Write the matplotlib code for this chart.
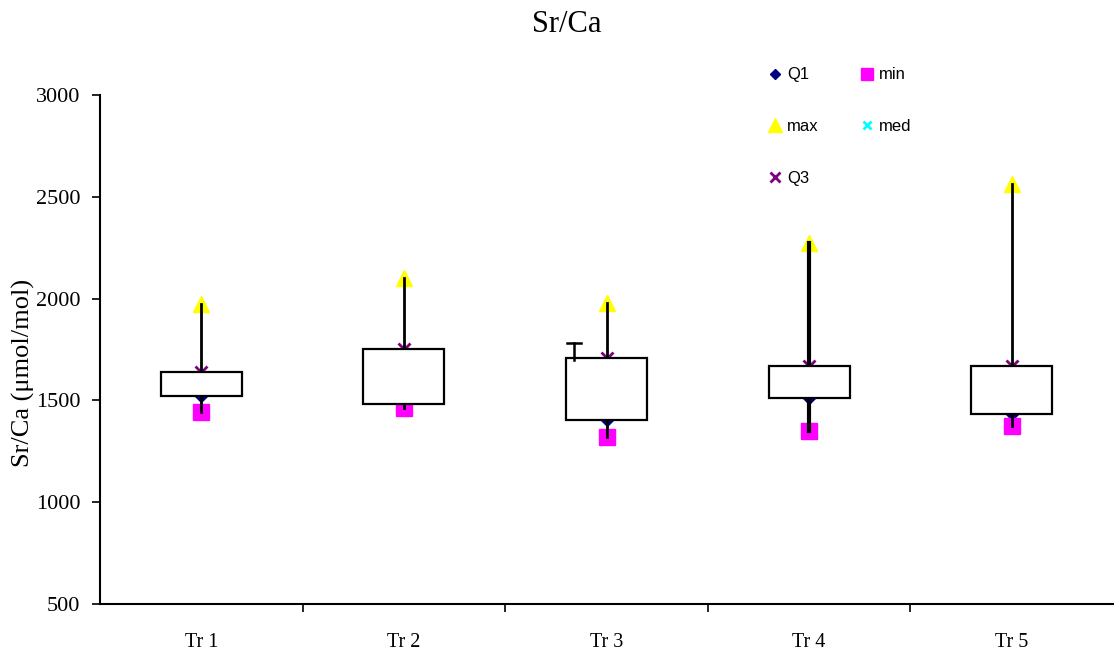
import matplotlib.pyplot as plt

plt.rcParams["font.family"] = ["Liberation Serif", "DejaVu Serif"]

categories = ["Tr 1", "Tr 2", "Tr 3", "Tr 4", "Tr 5"]
q1 = [1522, 1482, 1404, 1513, 1433]
q3 = [1641, 1752, 1708, 1670, 1670]
med = [1575, 1610, 1550, 1585, 1540]
mins = [1441, 1463, 1320, 1350, 1374]
maxs = [1974, 2101, 1980, 2275, 2563]
# stray error-bar glyph left of the Tr 3 box
stray_x = 2.84
stray_low, stray_high = 1698, 1784

xs = list(range(1, len(categories) + 1))

fig = plt.figure(figsize=(11.14, 6.57), dpi=100)
ax = fig.add_axes([100 / 1114, 1 - 604 / 657, 1013 / 1114, 509 / 657])

# markers first, then high-low line, then the box on top
ax.plot(xs, q1, linestyle="none", marker="D", color="#000080", markersize=6, label="Q1", zorder=1)
ax.plot(xs, maxs, linestyle="none", marker="^", color="#FFFF00", markersize=12, label="max", zorder=1)
ax.plot(xs, q3, linestyle="none", marker="x", color="#800080", markersize=8, mew=2, label="Q3", zorder=1)
ax.plot(xs, mins, linestyle="none", marker="s", color="#FF00FF", markersize=11, label="min", zorder=1)
ax.plot(xs, med, linestyle="none", marker="x", color="#00FFFF", markersize=7, mew=2, label="med", zorder=0.5)

widths = [2, 2, 2, 3, 2]
for x, lo, hi, lw in zip(xs, mins, maxs, widths):
    ax.plot([x, x], [lo, hi], color="black", lw=lw, zorder=2)

ax.bar(xs, [b - a for a, b in zip(q1, q3)], bottom=q1, width=0.4,
       facecolor="white", edgecolor="black", linewidth=1.6, zorder=3)

ax.plot([stray_x, stray_x], [stray_low, stray_high], color="black", lw=1.8, zorder=4)
ax.plot([stray_x - 0.035, stray_x + 0.035], [stray_high, stray_high], color="black", lw=1.8, zorder=4)

ax.set_xlim(0.5, 5.5)
ax.set_ylim(500, 3000)
ax.set_yticks([500, 1000, 1500, 2000, 2500, 3000])
ax.set_xticks(xs)
ax.set_xticklabels(categories)
ax.set_xticks([1.5, 2.5, 3.5, 4.5], minor=True)
ax.tick_params(axis="x", which="major", length=0, pad=21, labelsize=14.5)
ax.tick_params(axis="x", which="minor", length=6, width=1.2, direction="out")
ax.tick_params(axis="y", length=6, width=1.2, direction="out", pad=8, labelsize=16)
ax.spines["top"].set_visible(False)
ax.spines["right"].set_visible(False)
ax.spines["left"].set_linewidth(1.5)
ax.spines["bottom"].set_linewidth(1.5)

fig.text(23 / 1114, 1 - 373 / 657, "Sr/Ca (μmol/mol)", rotation=90,
         ha="center", va="center", fontsize=19)
fig.text(567 / 1114, 1 - 25 / 657, "Sr/Ca", ha="center", va="center", fontsize=22)

handles, labels = ax.get_legend_handles_labels()
leg = ax.legend(handles, labels,
                ncol=2, frameon=False, loc="upper left",
                bbox_to_anchor=(762 / 1114, 1 - 59 / 657), bbox_transform=fig.transFigure,
                prop={"family": "Liberation Sans", "size": 12},
                handlelength=0.6, handletextpad=0.4, labelspacing=2.2,
                columnspacing=2.6, borderpad=0, markerscale=0.85)

fig.savefig("out.png", dpi=100)
